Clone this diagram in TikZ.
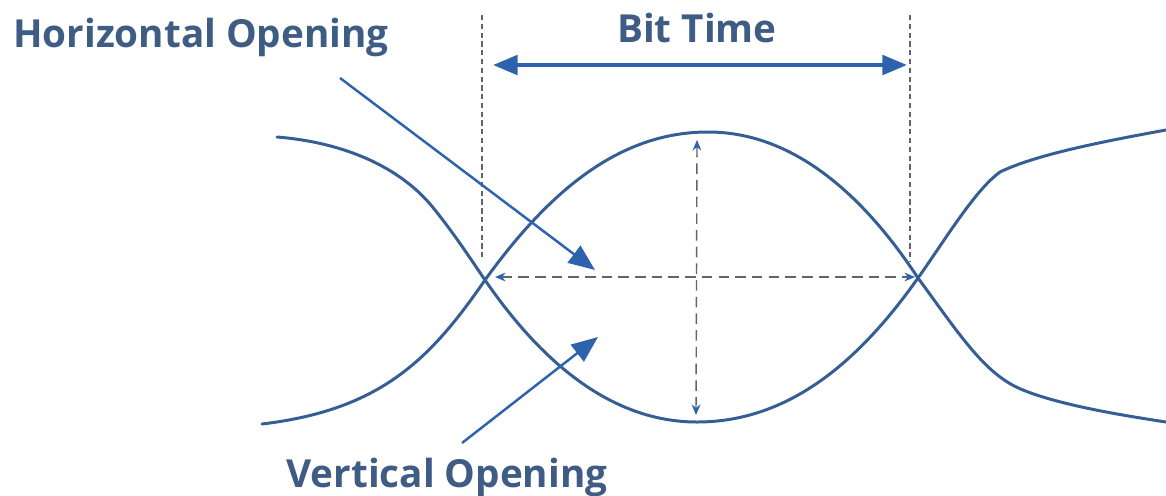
\documentclass[tikz,border=0pt]{standalone}
\usepackage{fontspec}
\setmainfont{Carlito}
\newfontfamily\lblfont{Open Sans}
\usepackage{xcolor}
\definecolor{eyeCurve}{RGB}{ 52,  94, 148}
\definecolor{eyeArrow}{RGB}{ 45,  98, 172}
\definecolor{eyeText} {RGB}{ 62,  92, 132}
\definecolor{eyeGrid} {RGB}{ 96, 100, 112}
\usepackage{tikz}
\usetikzlibrary{
  arrows.meta,
  positioning,
}

\begin{document}
\begin{tikzpicture}[
  x=0.02cm, y=-0.02cm,
  curve/.style  ={draw=eyeCurve, line width=1.7pt, line cap=round},
  guide/.style  ={draw=eyeGrid, line width=0.8pt, dash pattern=on 3pt off 2pt},
  bitarr/.style ={{Triangle[length=14pt,width=11pt]}-{Triangle[length=14pt,width=11pt]},
                  draw=eyeArrow, line width=2.4pt},
  measure/.style={{Stealth[length=6pt,width=5pt,color=eyeArrow]}-{Stealth[length=6pt,width=5pt,color=eyeArrow]},
                  draw=eyeGrid, line width=0.8pt, dash pattern=on 6pt off 3.5pt},
  pointer/.style={-{Triangle[length=15pt,width=12pt]}, draw=eyeArrow, line width=1.4pt},
  lbl/.style    ={font=\lblfont\bfseries\fontsize{22}{26}\selectfont, text=eyeText, inner sep=0pt},
]
  \useasboundingbox (0,0) rectangle (1166,495);

  % crossing points and curve ends
  \coordinate (xl)  at (485,280);
  \coordinate (xr)  at (918,278);
  \coordinate (top) at (708,132);
  \coordinate (bot) at (697,422);

  % eye: two traces
  \draw[curve] (277,137) .. controls (340,142) and (400,165) .. (435,210)
               .. controls (455,235) and (470,258) .. (xl)
               .. controls (540,360) and (610,422) .. (bot)
               .. controls (790,422) and (860,360) .. (xr)
               .. controls (945,240) and (975,190) .. (1000,172)
               .. controls (1035,155) and (1100,142) .. (1166,130);
  \draw[curve] (262,424) .. controls (380,410) and (430,360) .. (xl)
               .. controls (550,190) and (620,132) .. (top)
               .. controls (790,132) and (860,190) .. (xr)
               .. controls (960,335) and (985,375) .. (1023,390)
               .. controls (1060,405) and (1120,415) .. (1166,422);

  % bit time markers
  \coordinate (gl0) at (482,15);
  \coordinate (gl1) at (482,258);
  \coordinate (gr0) at (910,15);
  \coordinate (gr1) at (910,262);
  \draw[guide] (gl0) -- (gl1);
  \draw[guide] (gr0) -- (gr1);

  \coordinate (btl) at (493,65);
  \coordinate (btr) at (907,65);
  \draw[bitarr] (btl) -- (btr);
  \node[lbl] (bittime) at (697,28) {Bit Time};

  % openings
  \coordinate (hl) at (495,277);
  \coordinate (hr) at (915,277);
  \draw[measure] (hl) -- (hr);
  \coordinate (vt) at (697,140);
  \coordinate (vb) at (696,415);
  \draw[measure] (vt) -- (vb);

  % labels with pointers
  \node[lbl] (horiz) at (201,37)  {Horizontal Opening};
  \node[lbl] (vert)  at (447,477) {Vertical Opening};
  \coordinate (htail) at (340,78);
  \coordinate (htip)  at (595,270);
  \coordinate (vtail) at (462,443);
  \coordinate (vtip)  at (598,337);
  \draw[pointer] (htail) -- (htip);
  \draw[pointer] (vtail) -- (vtip);

\end{tikzpicture}
\end{document}
